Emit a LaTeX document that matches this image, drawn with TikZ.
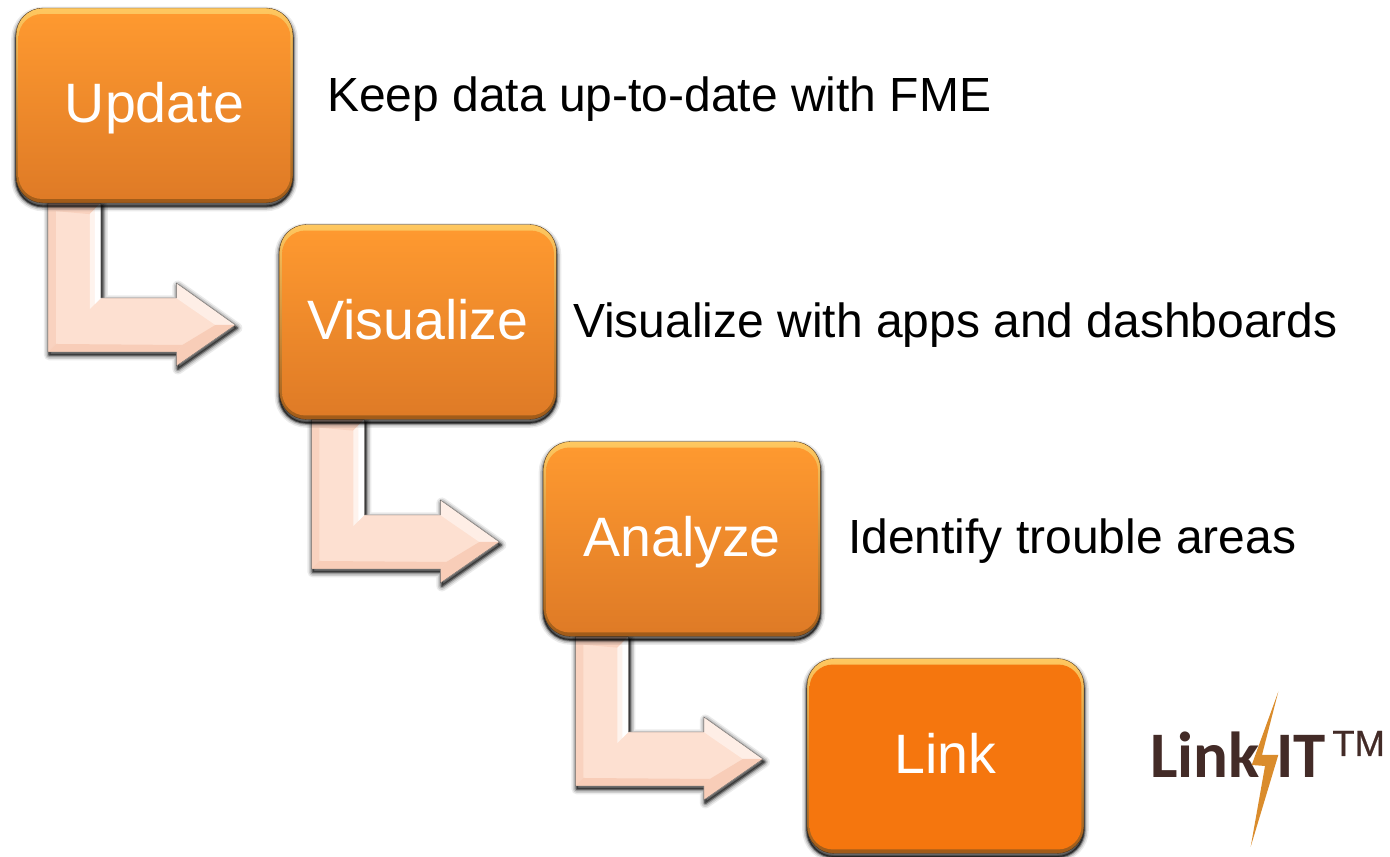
\documentclass[tikz,border=0pt]{standalone}
\usepackage{fontspec}
\setmainfont{Liberation Sans}
\newfontfamily\logofont{Carlito}
\newfontfamily\tmfont[FakeBold=0.6]{Liberation Sans}
\usetikzlibrary{calc,shadows}
\pgfdeclarelayer{arrows}
\pgfsetlayers{arrows,main}
\definecolor{boxtop}{HTML}{FF9A30}
\definecolor{boxbottom}{HTML}{DE7A26}
\definecolor{linkfill}{HTML}{F5760E}
\definecolor{rimtop}{HTML}{FFC860}
\definecolor{rimmid}{HTML}{EE8420}
\definecolor{rimbottom}{HTML}{A05A18}
\definecolor{arrowfill}{HTML}{FDE0D1}
\definecolor{arrowedge}{HTML}{F9D2BF}
\definecolor{arrowdark}{HTML}{F8CDB8}
\definecolor{logotext}{HTML}{432B27}
\definecolor{bolt}{HTML}{DA8C2C}
\tikzset{
	stepbox/.style 2 args={
		rounded corners=0.54cm, minimum width=5.54cm, minimum height=3.9cm, inner sep=0,
		top color=rimtop, middle color=rimmid, bottom color=rimbottom, draw=black!60!brown, very thin,
		text=white, font=\fontsize{31.6}{36}\selectfont, text height=24pt, text depth=4.5pt,
		general shadow={draw=black, line width=5.5pt, opacity=0.08, shadow yshift=-2pt},
		general shadow={draw=black, line width=3.8pt, opacity=0.14, shadow yshift=-2pt},
		general shadow={draw=black, line width=2.2pt, opacity=0.25, shadow yshift=-2pt},
		general shadow={fill=black, draw=black, line width=1pt, opacity=0.5, shadow yshift=-2pt},
		path picture={
			\shade [top color=#1, bottom color=#2, rounded corners=0.47cm]
				($(path picture bounding box.north west)+(2.5,-6)$) rectangle
				($(path picture bounding box.south east)+(-2.5,4)$);
		}
	},
	note/.style={anchor=west, text=black, font=\fontsize{27.3}{32}\selectfont},
	logoname/.style={anchor=base west, inner sep=0, text=logotext, font=\logofont\bfseries\fontsize{37}{40}\selectfont},
}
% shape of the bent arrow between two boxes
\def\arrowbody{
	(top) -- ($(top)+(53,0)$) -- ($(elbow)+(53,27)$) -- ($(tip)+(-59,27)$) -- ($(tip)+(-59,42)$)
	-- (tip) -- ($(tip)+(-59,-41)$) -- ($(tip)+(-59,-27)$) -- ($(elbow)+(0,-27)$) -- cycle
}
\def\bentarrow(#1)(#2){
	\coordinate (top) at ($(#1.south west)+(32,0)$);
	\coordinate (tip) at ($(#2.west)+(-44,-3)$);
	\coordinate (elbow) at (top |- tip);
	\foreach \wid/\opa in {11/0.08, 8/0.12, 5/0.2}
		\draw [black, line join=round, line width=\wid*0.569pt, opacity=\opa, transform canvas={shift={(1.5,-3)}}] \arrowbody;
	\filldraw [black, line join=round, line width=1.4pt, opacity=0.4, transform canvas={shift={(1.5,-3)}}] \arrowbody;
	\fill [arrowfill] \arrowbody;
	% bevels
	\fill [arrowedge] (top) -- ($(top)+(53,0)$) -- ($(top)+(42,-11)$) -- ($(top)+(8,-8)$) -- cycle;
	\fill [arrowfill!40!white] ($(top)+(53,0)$) -- ($(elbow)+(53,27)$) -- ($(elbow)+(42,16)$) -- ($(top)+(42,-11)$) -- cycle;
	\fill [white] ($(top)+(53,0)$) -- ($(elbow)+(53,27)$) -- ($(elbow)+(47,21)$) -- ($(top)+(47,-6)$) -- cycle;
	\fill [arrowedge] (top) -- ($(elbow)+(0,-27)$) -- ($(elbow)+(8,-19)$) -- ($(top)+(8,-8)$) -- cycle;
	\fill [arrowdark] ($(elbow)+(0,-27)$) -- ($(tip)+(-59,-27)$) -- ($(tip)+(-53,-20)$) -- ($(elbow)+(8,-19)$) -- cycle;
	\fill [arrowfill!55!white] ($(tip)+(-59,42)$) -- (tip) -- ($(tip)+(-20,0)$) -- ($(tip)+(-52,22)$) -- ($(tip)+(-59,27)$) -- cycle;
	\fill [arrowdark] (tip) -- ($(tip)+(-59,-41)$) -- ($(tip)+(-59,-27)$) -- ($(tip)+(-53,-20)$) -- ($(tip)+(-20,0)$) -- cycle;
	\draw [black!60, very thin] \arrowbody;
}
\begin{document}
\begin{tikzpicture}[x=0.02cm, y=0.02cm]
	\useasboundingbox (0,0) rectangle (1390,857);
	\node [stepbox={boxtop}{boxbottom}] (update) at (154.5,751.5) {Update};
	\node [stepbox={boxtop}{boxbottom}] (visualize) at (418,535) {Visualize};
	\node [stepbox={boxtop}{boxbottom}] (analyze) at (682,318) {Analyze};
	\node [stepbox={linkfill}{linkfill}] (link) at (945.5,101) {Link};
	\node [note] (keep) at (321,758) {Keep data up-to-date with FME};
	\node [note] (apps) at (567,532) {Visualize with apps and dashboards};
	\node [note] (trouble) at (842,315.5) {Identify trouble areas};
	\begin{pgfonlayer}{arrows}
		\foreach \from/\to in {update/visualize, visualize/analyze, analyze/link}
			\bentarrow(\from)(\to);
	\end{pgfonlayer}
	% logo
	\node [logoname] (logolink) at (1150,79) {Link};
	\node [logoname] (logoit) at (1276,79) {IT};
	\node [anchor=base west, inner sep=0, text=logotext, font=\tmfont\fontsize{20.7}{24}\selectfont] (logotm) at (1332,101) {TM};
	\fill [bolt] (1278.3,165.3) -- (1251.7,92) -- (1265,91) -- (1250.7,10.3) -- (1278.3,102) -- (1262,102) -- cycle;
\end{tikzpicture}
\end{document}
